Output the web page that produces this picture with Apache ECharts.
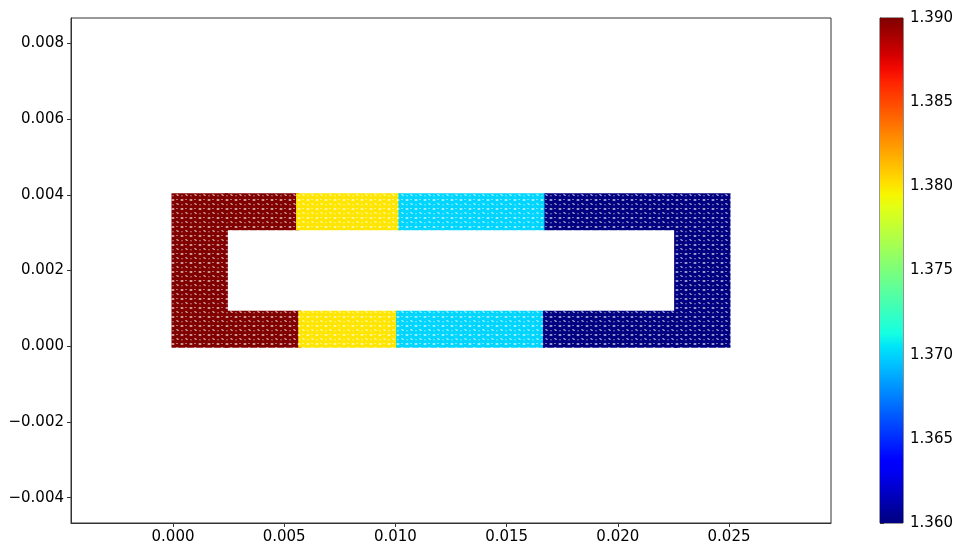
<!DOCTYPE html>
<html><head><meta charset="utf-8">
<script src="https://cdn.jsdelivr.net/npm/echarts@6/dist/echarts.min.js"></script>
<style>html,body{margin:0;padding:0;background:#fff}#c{width:956px;height:546px}</style>
</head><body><div id="c"></div>
<script>
// Region blocks of the point cloud: [x0, x1, y0, y1, value]
const regionX0 = [0.0000, 0.0024, 0.0024, 0.0056, 0.0057, 0.0102, 0.0101, 0.01677, 0.0167, 0.0226];
const regionX1 = [0.0024, 0.0056, 0.0057, 0.0102, 0.0101, 0.01677, 0.0167, 0.0226, 0.0226, 0.0250];
const regionY0 = [0.0000, 0.0031, 0.0000, 0.0031, 0.0000, 0.0031, 0.0000, 0.0031, 0.0000, 0.0000];
const regionY1 = [0.0040, 0.0040, 0.0009, 0.0040, 0.0009, 0.0040, 0.0009, 0.0040, 0.0009, 0.0040];
const regionVal = [1.390, 1.390, 1.390, 1.380, 1.380, 1.370, 1.370, 1.360, 1.360, 1.360];

const xTicks = [0.000, 0.005, 0.010, 0.015, 0.020, 0.025];
const yTicks = [-0.004, -0.002, 0.000, 0.002, 0.004, 0.006, 0.008];
const cbTicks = [1.360, 1.365, 1.370, 1.375, 1.380, 1.385, 1.390];
const xRange = [-0.004586, 0.029586];
const yRange = [-0.00467, 0.00867];
const cbRange = [1.360, 1.390];

// jet colormap
function seg(pts, t){
  for (let i=1;i<pts.length;i++){
    if (t<=pts[i][0]){const a=pts[i-1],b=pts[i];return a[1]+(b[1]-a[1])*(t-a[0])/(b[0]-a[0]);}
  }
  return pts[pts.length-1][1];
}
const R=[[0,0],[0.35,0],[0.66,1],[0.89,1],[1,0.5]];
const G=[[0,0],[0.125,0],[0.375,1],[0.64,1],[0.91,0],[1,0]];
const B=[[0,0.5],[0.11,1],[0.34,1],[0.65,0],[1,0]];
function jet(t){t=Math.max(0,Math.min(1,t));
  const c=v=>Math.round(255*v);
  return 'rgb('+c(seg(R,t))+','+c(seg(G,t))+','+c(seg(B,t))+')';}
function valColor(v){return jet((v-cbRange[0])/(cbRange[1]-cbRange[0]));}

const patCache={};
function pattern(col){
  if(patCache[col])return patCache[col];
  const cv=document.createElement('canvas');cv.width=9;cv.height=9;
  const g=cv.getContext('2d');
  g.fillStyle=col;g.fillRect(0,0,9,9);
  g.fillStyle='rgba(255,255,255,0.9)';
  g.beginPath();g.ellipse(2,2,1.6,0.7,0,0,Math.PI*2);g.fill();
  g.beginPath();g.ellipse(6.5,6,1.4,0.65,0.3,0,Math.PI*2);g.fill();
  g.fillStyle='rgba(255,255,255,0.6)';
  g.beginPath();g.ellipse(6,1.5,1.0,0.5,0,0,Math.PI*2);g.fill();
  g.beginPath();g.ellipse(2,6.8,1.0,0.5,0,0,Math.PI*2);g.fill();
  patCache[col]={image:cv,repeat:'repeat'};
  return patCache[col];
}

const regionData = regionX0.map((x,i)=>[x, regionX1[i], regionY0[i], regionY1[i], regionVal[i]]);

const font='DejaVu Sans';
const lbl={color:'#000',fontFamily:font,fontSize:15};
const fmt=v=>{const s=Math.abs(v).toFixed(3);return (v< -1e-12?'\u2212':'')+s;};

const chart=echarts.init(document.getElementById('c'),null,{renderer:'canvas'});
const cbStops=[];for(let i=0;i<=40;i++){cbStops.push({offset:i/40,color:jet(1-i/40)});}
chart.setOption({
  animation:false,
  grid:[
    {left:71,right:125,top:18,bottom:23,show:true,borderColor:'#333',borderWidth:1,backgroundColor:'transparent'},
    {left:880,width:25,top:18,bottom:23,show:true,borderColor:'#333',borderWidth:1}
  ],
  xAxis:[
    {type:'value',gridIndex:0,min:xRange[0],max:xRange[1],splitLine:{show:false},
     axisLine:{show:true,onZero:false,lineStyle:{color:'#333'}},
     axisTick:{show:true,length:4,customValues:xTicks,lineStyle:{color:'#333'}},
     axisLabel:Object.assign({customValues:xTicks,formatter:fmt,margin:7},lbl)},
    {type:'value',gridIndex:1,min:0,max:1,show:false}
  ],
  yAxis:[
    {type:'value',gridIndex:0,min:yRange[0],max:yRange[1],splitLine:{show:false},
     axisLine:{show:true,onZero:false,lineStyle:{color:'#333'}},
     axisTick:{show:true,length:4,customValues:yTicks,lineStyle:{color:'#333'}},
     axisLabel:Object.assign({customValues:yTicks,formatter:fmt,margin:7},lbl)},
    {type:'value',gridIndex:1,position:'right',min:cbRange[0],max:cbRange[1],splitLine:{show:false},
     axisLine:{show:true,lineStyle:{color:'#333'}},
     axisTick:{show:true,length:4,customValues:cbTicks,lineStyle:{color:'#333'}},
     axisLabel:Object.assign({customValues:cbTicks,formatter:v=>v.toFixed(3),margin:7},lbl)}
  ],
  series:[
    {type:'custom',xAxisIndex:0,yAxisIndex:0,data:regionData,clip:true,
     renderItem:function(params,api){
       const p0=api.coord([api.value(0),api.value(3)]);
       const p1=api.coord([api.value(1),api.value(2)]);
       const pad=1.5;
       const col=valColor(api.value(4));
       return {type:'rect',shape:{x:p0[0]-pad,y:p0[1]-pad,width:p1[0]-p0[0]+2*pad,height:p1[1]-p0[1]+2*pad},
         style:{fill:pattern(col)}};
     }},
    {type:'custom',xAxisIndex:1,yAxisIndex:1,data:[[0,1,cbRange[0],cbRange[1]]],
     renderItem:function(params,api){
       const p0=api.coord([api.value(0),api.value(3)]);
       const p1=api.coord([api.value(1),api.value(2)]);
       return {type:'rect',shape:{x:p0[0],y:p0[1],width:p1[0]-p0[0],height:p1[1]-p0[1]},
         style:{fill:new echarts.graphic.LinearGradient(0,0,0,1,cbStops)}};
     }}
  ]
});
</script></body></html>
